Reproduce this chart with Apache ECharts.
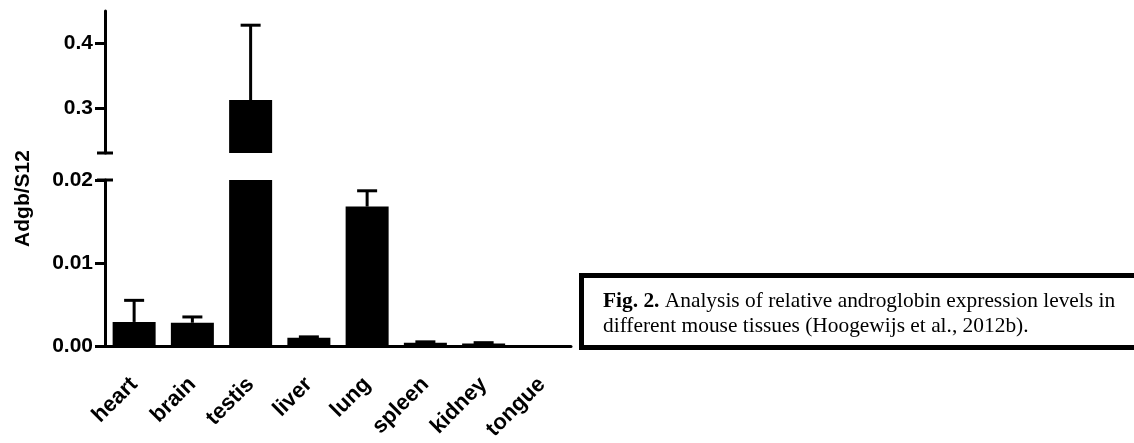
<!DOCTYPE html>
<html>
<head>
<meta charset="utf-8">
<script src="https://cdn.jsdelivr.net/npm/echarts@6/dist/echarts.min.js"></script>
<style>
html,body{margin:0;padding:0;background:#fff;}
#chart{width:1134px;height:443px;}
</style>
</head>
<body>
<div id="chart"></div>
<script>
// ---- data ----
var categories = ['heart', 'brain', 'testis', 'liver', 'lung', 'spleen', 'kidney', 'tongue'];
var values = [0.0029, 0.0028, 0.312, 0.0010, 0.0168, 0.0004, 0.0003, 0.0001];
var errors = [0.0026, 0.0007, 0.116, 0.0001, 0.0019, 0.0001, 0.0001, 0.0];
var topTicks = [0.3, 0.4];
var bottomTicks = [0, 0.01, 0.02];
var yTitle = 'Adgb/S12';
var captionBold = 'Fig. 2.';
var captionLine1 = ' Analysis of relative androglobin expression levels in';
var captionLine2 = 'different mouse tissues (Hoogewijs et al., 2012b).';

// ---- layout ----
var L = 105, W = 466;
var topMin = 0.23, topMax = 0.45;
var botMin = 0, botMax = 0.02;

var chart = echarts.init(document.getElementById('chart'), null, {renderer: 'canvas'});

var errData = categories.map(function (c, i) { return [i, values[i], errors[i]]; });

function renderErr(params, api) {
  var cs = params.coordSys;
  var v = api.value(1), e = api.value(2);
  if (!e) return null;
  var p0 = api.coord([api.value(0), v]);
  var p1 = api.coord([api.value(0), v + e]);
  var yTop = cs.y, yBot = cs.y + cs.height;
  if (p1[1] < yTop - 0.5 || p0[1] > yBot + 0.5) return null;
  var y0 = Math.min(p0[1], yBot);
  var half = 10;
  return {
    type: 'group',
    children: [
      {type: 'line', shape: {x1: p0[0], y1: y0, x2: p1[0], y2: p1[1]}, style: {stroke: '#000', lineWidth: 3}},
      {type: 'line', shape: {x1: p1[0] - half, y1: p1[1], x2: p1[0] + half, y2: p1[1]}, style: {stroke: '#000', lineWidth: 3}}
    ]
  };
}

var FONT = '"Liberation Sans", Arial, sans-serif';
var axisLabelStyle = {color: '#000', fontFamily: FONT, fontWeight: 'bold', fontSize: 21};

var option = {
  animation: false,
  backgroundColor: '#fff',
  grid: [
    {left: L, width: W, top: 11, height: 142},
    {left: L, width: W, top: 180, height: 166}
  ],
  xAxis: [
    {gridIndex: 0, type: 'category', data: categories, show: false},
    {
      gridIndex: 1, type: 'category', data: categories,
      axisLine: {lineStyle: {color: '#000', width: 3}},
      axisTick: {alignWithLabel: true, length: 10, lineStyle: {color: '#000', width: 3}},
      axisLabel: {rotate: 45, margin: 35, interval: 0, fontSize: 22, color: '#000', fontFamily: FONT, fontWeight: 'bold'},
      splitLine: {show: false}
    }
  ],
  yAxis: [
    {
      gridIndex: 0, type: 'value', min: topMin, max: topMax,
      axisLine: {show: true, lineStyle: {color: '#000', width: 3}},
      axisTick: {show: true, length: 10, customValues: topTicks, lineStyle: {color: '#000', width: 3}},
      axisLabel: Object.assign({margin: 12, customValues: topTicks, formatter: function (v) { return v.toFixed(1); }}, axisLabelStyle),
      splitLine: {show: false}
    },
    {
      gridIndex: 1, type: 'value', min: botMin, max: botMax, interval: 0.01,
      axisLine: {show: true, lineStyle: {color: '#000', width: 3}},
      axisTick: {show: true, length: 10, customValues: bottomTicks, lineStyle: {color: '#000', width: 3}},
      axisLabel: Object.assign({margin: 12, customValues: bottomTicks, formatter: function (v) { return v.toFixed(2); }}, axisLabelStyle),
      splitLine: {show: false}
    }
  ],
  series: [
    {type: 'bar', xAxisIndex: 0, yAxisIndex: 0, data: values, barWidth: 43, itemStyle: {color: '#000'}, clip: true, z: 2},
    {type: 'bar', xAxisIndex: 1, yAxisIndex: 1, data: values, barWidth: 43, itemStyle: {color: '#000'}, clip: true, z: 2},
    {type: 'custom', xAxisIndex: 0, yAxisIndex: 0, data: errData, renderItem: renderErr, clip: true, z: 3},
    {type: 'custom', xAxisIndex: 1, yAxisIndex: 1, data: errData, renderItem: renderErr, clip: true, z: 3}
  ]
};
chart.setOption(option);

// axis break caps and texts
var yBreakTop = chart.convertToPixel({yAxisIndex: 0}, topMin);
var yBreakBot = chart.convertToPixel({yAxisIndex: 1}, botMax);
var axisMid = (yBreakTop + yBreakBot) / 2;

chart.setOption({
  graphic: [
    {type: 'line', shape: {x1: L - 8, y1: yBreakTop, x2: L + 8, y2: yBreakTop}, style: {stroke: '#000', lineWidth: 3}, z: 10},
    {type: 'line', shape: {x1: L - 8, y1: yBreakBot, x2: L + 8, y2: yBreakBot}, style: {stroke: '#000', lineWidth: 3}, z: 10},
    {
      type: 'text', x: 23, y: axisMid + 32, rotation: Math.PI / 2,
      style: {text: yTitle, fill: '#000', font: 'bold 21px "Liberation Sans", Arial, sans-serif', textAlign: 'center', textVerticalAlign: 'middle'}
    },
    {type: 'rect', shape: {x: 581.5, y: 275.5, width: 600, height: 72}, style: {fill: '#fff', stroke: '#000', lineWidth: 5}},
    {
      type: 'text', x: 603, y: 314,
      style: {
        text: '{b|' + captionBold + '}' + captionLine1 + '\n' + captionLine2,
        fill: '#000', font: '21.4px "Liberation Serif", "Times New Roman", serif',
        lineHeight: 25, textVerticalAlign: 'middle',
        rich: {b: {fontWeight: 'bold', fontSize: 21.4, fontFamily: '"Liberation Serif", "Times New Roman", serif'}}
      }
    }
  ]
});
</script>
</body>
</html>
